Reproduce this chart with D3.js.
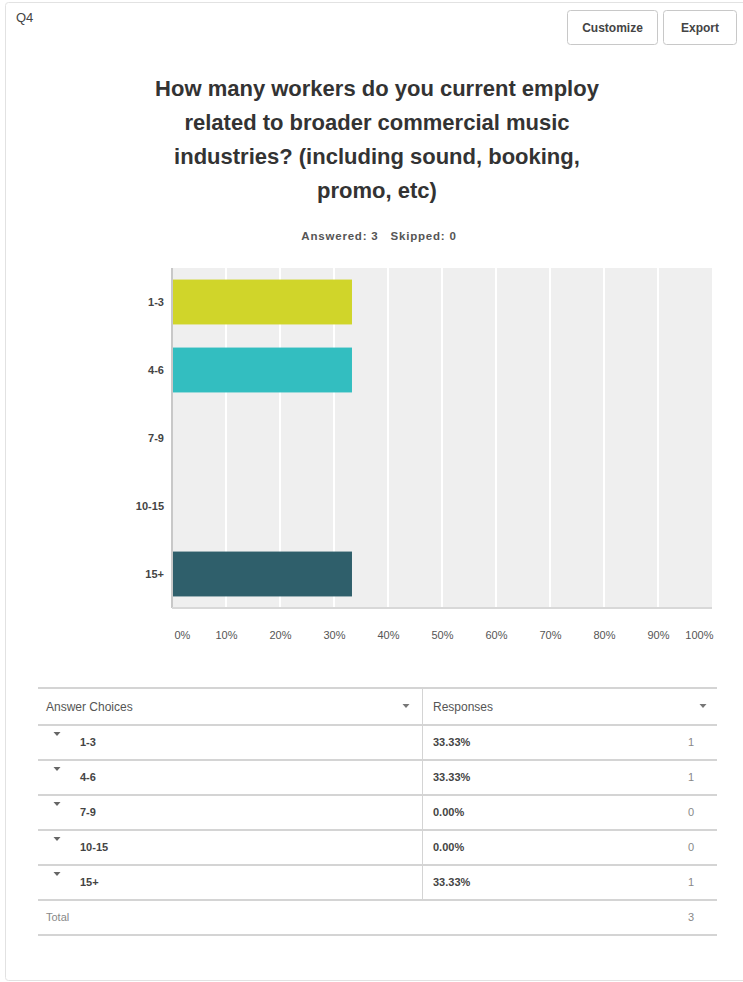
<!DOCTYPE html>
<html>
<head>
<meta charset="utf-8">
<script src="https://cdn.jsdelivr.net/npm/d3@7"></script>
<style>
  body { margin: 0; background: #fff; }
  svg text { font-family: "Liberation Sans", Arial, sans-serif; }
</style>
</head>
<body>
<script>
"use strict";

// chart data
var categories = ["1-3", "4-6", "7-9", "10-15", "15+"];
var percents = [33.33, 33.33, 0, 0, 33.33];
var counts = [1, 1, 0, 0, 1];
var barColors = ["#d0d52a", "#33bec0", "#d0d52a", "#33bec0", "#2f5f6b"];
var xTicks = [0, 10, 20, 30, 40, 50, 60, 70, 80, 90, 100];
var titleLines = ["How many workers do you current employ",
	"related to broader commercial music",
	"industries? (including sound, booking,",
	"promo, etc)"];
var totalCount = 3;

var W = 743, H = 982;
var svg = d3.select("body").append("svg")
	.attr("width", W)
	.attr("height", H);

// card
svg.append("rect")
	.attr("x", 5.5).attr("y", 2.5)
	.attr("width", 745).attr("height", 978)
	.attr("rx", 3)
	.attr("fill", "#fff")
	.attr("stroke", "#e2e2e2");

svg.append("text")
	.attr("x", 16).attr("y", 22)
	.attr("font-size", 13)
	.attr("fill", "#444")
	.text("Q4");

// buttons
var buttons = [{label: "Customize", x: 567, w: 90}, {label: "Export", x: 663, w: 73}];
buttons.forEach(function (b) {
	svg.append("rect")
		.attr("x", b.x + 0.5).attr("y", 10.5)
		.attr("width", b.w).attr("height", 34)
		.attr("rx", 3)
		.attr("fill", "#fff")
		.attr("stroke", "#c8c8c8");
	svg.append("text")
		.attr("x", b.x + b.w / 2 + 0.5).attr("y", 32)
		.attr("text-anchor", "middle")
		.attr("font-size", 12)
		.attr("font-weight", "bold")
		.attr("fill", "#444")
		.text(b.label);
});

// title
svg.append("g").selectAll("text")
	.data(titleLines)
	.join("text")
	.attr("x", 377)
	.attr("y", function (d, i) { return 96 + i * 34; })
	.attr("text-anchor", "middle")
	.attr("font-size", 22)
	.attr("font-weight", "bold")
	.attr("fill", "#333")
	.text(function (d) { return d; });

svg.append("text")
	.attr("x", 379).attr("y", 240)
	.attr("text-anchor", "middle")
	.attr("font-size", 11.5)
	.attr("font-weight", "bold")
	.attr("letter-spacing", 0.8)
	.attr("fill", "#555")
	.attr("xml:space", "preserve")
	.text("Answered: 3   Skipped: 0");

// plot
var pLeft = 172, pRight = 712, pTop = 268, pBottom = 608;

var x = d3.scaleLinear().domain([0, 100]).range([pLeft, pRight]);
var y = d3.scaleBand().domain(categories).range([pTop, pBottom])
	.paddingInner(0.34).paddingOuter(0.17);

svg.append("rect")
	.attr("x", pLeft).attr("y", pTop)
	.attr("width", pRight - pLeft).attr("height", pBottom - pTop)
	.attr("fill", "#efefef");

svg.append("g")
	.selectAll("line")
	.data(xTicks.slice(1, -1))
	.join("line")
	.attr("x1", function (d) { return x(d); })
	.attr("x2", function (d) { return x(d); })
	.attr("y1", pTop).attr("y2", pBottom)
	.attr("stroke", "#fff")
	.attr("stroke-width", 2);

svg.append("g")
	.selectAll("rect")
	.data(categories)
	.join("rect")
	.attr("x", pLeft)
	.attr("y", function (d) { return y(d); })
	.attr("width", function (d, i) { return x(percents[i]) - pLeft; })
	.attr("height", y.bandwidth())
	.attr("fill", function (d, i) { return barColors[i]; });

// axis lines
svg.append("line")
	.attr("x1", pLeft).attr("x2", pLeft)
	.attr("y1", pTop).attr("y2", pBottom)
	.attr("stroke", "#c8c8c8").attr("stroke-width", 2);
svg.append("line")
	.attr("x1", pLeft).attr("x2", pRight)
	.attr("y1", pBottom).attr("y2", pBottom)
	.attr("stroke", "#d8d8d8").attr("stroke-width", 2);

// y labels
var yAxis = svg.append("g")
	.attr("transform", "translate(" + (pLeft - 8) + ",0)")
	.call(d3.axisLeft(y).tickSize(0).tickPadding(0));
yAxis.select(".domain").remove();
yAxis.selectAll("text")
	.attr("font-family", "Liberation Sans, Arial, sans-serif")
	.attr("font-size", 11)
	.attr("font-weight", "bold")
	.attr("fill", "#444");

// x labels
var xAxis = svg.append("g")
	.attr("transform", "translate(0," + (pBottom + 20) + ")")
	.call(d3.axisBottom(x).tickValues(xTicks).tickSize(0)
		.tickFormat(function (d) { return d + "%"; }));
xAxis.select(".domain").remove();
xAxis.selectAll("text")
	.attr("font-family", "Liberation Sans, Arial, sans-serif")
	.attr("font-size", 11)
	.attr("fill", "#555")
	.attr("text-anchor", function (d) { return d === 0 ? "start" : (d === 100 ? "end" : "middle"); })
	.attr("dx", function (d) { return d === 0 ? 2 : (d === 100 ? 1 : 0); });

// table
var tLeft = 38, tRight = 717, tDiv = 422, tTop = 688, rowH = 35;
var table = svg.append("g");

table.append("line")
	.attr("x1", tLeft).attr("x2", tRight)
	.attr("y1", tTop).attr("y2", tTop)
	.attr("stroke", "#d4d4d4").attr("stroke-width", 2);

table.append("text")
	.attr("x", 46).attr("y", tTop + 23)
	.attr("font-size", 12).attr("fill", "#555")
	.text("Answer Choices");
table.append("text")
	.attr("x", 433).attr("y", tTop + 23)
	.attr("font-size", 12).attr("fill", "#555")
	.text("Responses");

function triangle(cx, cy, fill) {
	table.append("path")
		.attr("d", "M" + (cx - 3.5) + "," + (cy - 2) + "L" + (cx + 3.5) + "," + (cy - 2) + "L" + cx + "," + (cy + 2) + "Z")
		.attr("fill", fill);
}
triangle(406, tTop + 18, "#777");
triangle(703, tTop + 18, "#777");

var rowTop = function (i) { return tTop + rowH + 2 + i * rowH; };

table.selectAll("line.row")
	.data(d3.range(categories.length + 2))
	.join("line")
	.attr("class", "row")
	.attr("x1", tLeft).attr("x2", tRight)
	.attr("y1", function (i) { return tTop + 2 + (i + 1) * rowH; })
	.attr("y2", function (i) { return tTop + 2 + (i + 1) * rowH; })
	.attr("stroke", "#d4d4d4")
	.attr("stroke-width", 2);

table.append("line")
	.attr("x1", tDiv + 0.5).attr("x2", tDiv + 0.5)
	.attr("y1", tTop).attr("y2", tTop + 2 + (categories.length + 1) * rowH)
	.attr("stroke", "#d4d4d4");

categories.forEach(function (c, i) {
	var ty = rowTop(i) + 21;
	triangle(57, rowTop(i) + 9, "#666");
	table.append("text")
		.attr("x", 80).attr("y", ty)
		.attr("font-size", 11).attr("font-weight", "bold").attr("fill", "#444")
		.text(c);
	table.append("text")
		.attr("x", 433).attr("y", ty)
		.attr("font-size", 11).attr("font-weight", "bold").attr("fill", "#444")
		.text(percents[i].toFixed(2) + "%");
	table.append("text")
		.attr("x", 694).attr("y", ty)
		.attr("text-anchor", "end")
		.attr("font-size", 11).attr("fill", "#888")
		.text(counts[i]);
});

var totY = rowTop(categories.length) + 21;
table.append("text")
	.attr("x", 46).attr("y", totY)
	.attr("font-size", 11).attr("fill", "#888")
	.text("Total");
table.append("text")
	.attr("x", 694).attr("y", totY)
	.attr("text-anchor", "end")
	.attr("font-size", 11).attr("fill", "#888")
	.text(totalCount);
</script>
</body>
</html>
